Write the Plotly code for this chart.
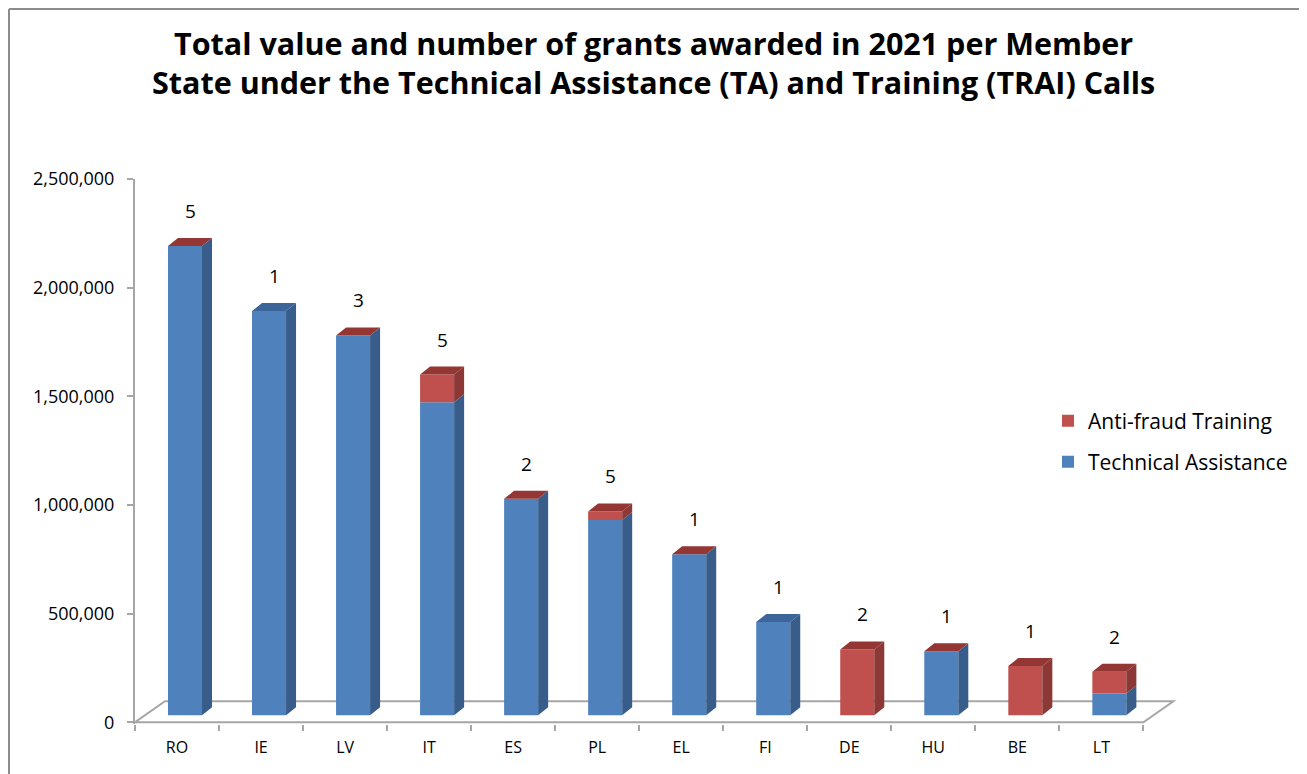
import plotly.graph_objects as go

# ---------------- data ----------------
categories = ["RO", "IE", "LV", "IT", "ES", "PL", "EL", "FI", "DE", "HU", "BE", "LT"]
technical_assistance = [2160000, 1860000, 1748000, 1440000, 996000, 899000, 741000, 429000, 0, 295000, 0, 100000]
antifraud_training = [0, None, 0, 128000, 0, 39000, 0, None, 303000, 0, 227000, 100000]
grant_counts = [5, 1, 3, 5, 2, 5, 1, 1, 2, 1, 1, 2]
y_ticks = [0, 500000, 1000000, 1500000, 2000000, 2500000]
title_lines = ["Total value and number of grants awarded in 2021 per Member",
               "State under the Technical Assistance (TA) and Training (TRAI) Calls"]

# ---------------- geometry / style ----------------
OFF = 8                      # page body margin of the html page
PW, PH = 1307, 774           # page size
W, H = PW - OFF, PH - OFF    # figure size
ML, MR, MT, MB = 135 - OFF, PW - 1177, 179 - OFF, PH - 724
XR = [-0.5, 11.9]
YR = [-8000, 2500000]
ppx = (W - ML - MR) / (XR[1] - XR[0])   # pixels per x unit
ppy = (H - MT - MB) / (YR[1] - YR[0])   # pixels per y unit

bar_off = 0.095
bar_w = 0.405
d_dx = 10 / ppx
d_dy = 8 / ppy
base0 = 7 / ppy
floor_dx = 30 / ppx
floor_dy = 21 / ppy

BLUE, BLUE_SIDE, BLUE_TOP = "#4F81BD", "#385D8A", "#3C6699"
RED, RED_SIDE, RED_TOP = "#C0504D", "#8C3836", "#943634"
GREY = "#A6A6A6"
FONT = "Open Sans"

n = len(categories)
xs = [i + bar_off for i in range(n)]
red_vals = [v if v is not None else 0 for v in antifraud_training]
blue_top = [base0 + t for t in technical_assistance]
totals = [base0 + t + r for t, r in zip(technical_assistance, red_vals)]

fig = go.Figure()

# front faces
fig.add_trace(go.Bar(x=xs, y=technical_assistance, base=[base0] * n, width=bar_w,
                     marker=dict(color=BLUE, line=dict(width=0)),
                     name="Technical Assistance", legend="legend2"))
fig.add_trace(go.Bar(x=xs, y=red_vals, base=blue_top, width=bar_w,
                     marker=dict(color=RED, line=dict(width=0)),
                     name="Anti-fraud Training", legend="legend"))


def side_poly(x_right, lo, hi):
    return ([x_right, x_right + d_dx, x_right + d_dx, x_right, x_right, None],
            [lo, lo + d_dy, hi + d_dy, hi, lo, None])


bsx, bsy, rsx, rsy = [], [], [], []
btx, bty, rtx, rty = [], [], [], []
for i in range(n):
    xl = xs[i] - bar_w / 2
    xr = xs[i] + bar_w / 2
    if technical_assistance[i] > 0:
        px_, py_ = side_poly(xr, base0, blue_top[i])
        bsx += px_; bsy += py_
    if red_vals[i] > 0:
        px_, py_ = side_poly(xr, blue_top[i], totals[i])
        rsx += px_; rsy += py_
    top = totals[i]
    tx = [xl, xl + d_dx, xr + d_dx, xr, xl, None]
    ty = [top, top + d_dy, top + d_dy, top, top, None]
    if antifraud_training[i] is not None:
        rtx += tx; rty += ty
    else:
        btx += tx; bty += ty

for px_, py_, col in [(bsx, bsy, BLUE_SIDE), (rsx, rsy, RED_SIDE), (btx, bty, BLUE_TOP), (rtx, rty, RED_TOP)]:
    fig.add_trace(go.Scatter(x=px_, y=py_, mode="lines", fill="toself", fillcolor=col,
                             line=dict(width=0, color=col), showlegend=False, hoverinfo="skip"))

# count labels
for i in range(n):
    fig.add_annotation(x=xs[i] + d_dx / 2, y=totals[i] + d_dy, text=str(grant_counts[i]),
                       showarrow=False, yanchor="bottom", yshift=12,
                       font=dict(family=FONT, size=19, color="#000000"))


def pxx(p):
    """page pixel x -> paper coordinate"""
    return (p - OFF - ML) / (W - ML - MR)


def pxy(p):
    """page pixel y -> paper coordinate"""
    return (H - MB - (p - OFF)) / (H - MT - MB)


# title (two centred lines)
for line, cy in zip(title_lines, [43, 82]):
    fig.add_annotation(xref="paper", yref="paper", x=pxx(PW / 2), y=pxy(cy),
                       xanchor="center", yanchor="middle", showarrow=False,
                       text="<b>" + line + "</b>",
                       font=dict(family=FONT, size=30.5, color="#000000"))

# floor (drawn below the bars)
floor_path = "M {x0},{y0} L {x1},{y0} L {x2},{y2} L {x3},{y2} Z".format(
    x0=XR[0], y0=0, x1=11.5, x2=11.5 + floor_dx, y2=floor_dy, x3=XR[0] + floor_dx)

shapes = [
    dict(type="path", xref="x", yref="y", path=floor_path, layer="below",
         line=dict(color=GREY, width=2), fillcolor="rgba(0,0,0,0)"),
    dict(type="line", xref="paper", yref="paper", x0=pxx(OFF + 1), x1=pxx(OFF + 1),
         y0=pxy(PH + 10), y1=pxy(OFF + 1), line=dict(color="#8C8C8C", width=2)),
    dict(type="line", xref="paper", yref="paper", x0=pxx(OFF + 1), x1=pxx(PW + 10),
         y0=pxy(OFF + 1), y1=pxy(OFF + 1), line=dict(color="#8C8C8C", width=2)),
]

fig.update_layout(
    width=W, height=H,
    margin=dict(l=ML, r=MR, t=MT, b=MB, autoexpand=False),
    paper_bgcolor="white", plot_bgcolor="white",
    barmode="overlay",
    font=dict(family=FONT, color="#000000"),
    xaxis=dict(range=XR, tickmode="array", tickvals=list(range(n)), ticktext=categories,
               ticks="", showgrid=False, zeroline=False, showline=False,
               tickfont=dict(family=FONT, size=16, color="#000000"), ticklabelstandoff=12,
               minor=dict(tick0=-0.5, dtick=1, ticks="outside", ticklen=6, tickcolor=GREY,
                          tickwidth=2, showgrid=False)),
    yaxis=dict(range=YR, tickmode="array", tickvals=y_ticks, tickformat=",",
               showgrid=False, zeroline=False, showline=True, linecolor=GREY, linewidth=2,
               ticks="outside", ticklen=6, tickcolor=GREY, tickwidth=2,
               tickfont=dict(family=FONT, size=18, color="#000000"), ticklabelstandoff=9),
    legend=dict(xref="container", yref="container", x=(1048 - OFF) / W, y=1 - (421 - OFF) / H,
                xanchor="left", yanchor="middle", bgcolor="rgba(0,0,0,0)",
                font=dict(family=FONT, size=21, color="#000000")),
    legend2=dict(xref="container", yref="container", x=(1048 - OFF) / W, y=1 - (462 - OFF) / H,
                 xanchor="left", yanchor="middle", bgcolor="rgba(0,0,0,0)",
                 font=dict(family=FONT, size=21, color="#000000")),
    shapes=shapes,
)

fig.write_html("out.html")
